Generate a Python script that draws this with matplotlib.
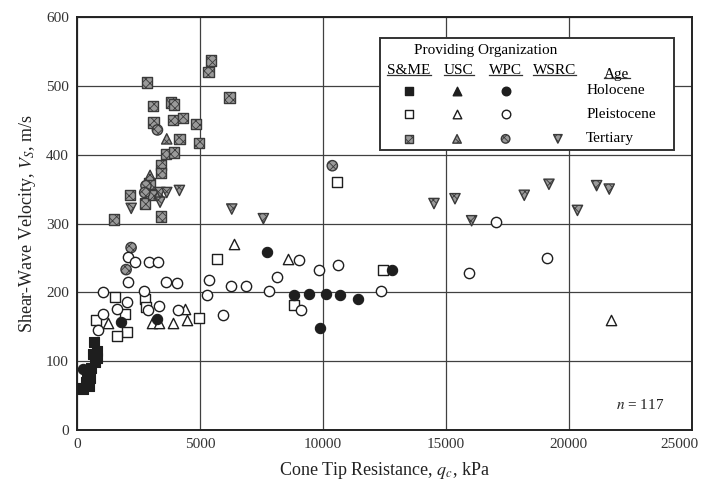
import matplotlib
matplotlib.use("Agg")
import matplotlib.pyplot as plt
from matplotlib.lines import Line2D
from matplotlib.transforms import ScaledTranslation

plt.rcParams['font.family'] = ['Liberation Serif', 'DejaVu Serif']
plt.rcParams['mathtext.fontset'] = 'stix'
plt.rcParams['hatch.linewidth'] = 0.6

# Holocene
sme_hol_qc = [700, 790, 800, 720, 560, 420, 540, 380, 150, 250, 480, 630]
sme_hol_vs = [128, 115, 104, 98, 90, 82, 76, 69, 61, 60, 64, 110]
wpc_hol_qc = [250, 1770, 3250, 7711, 8821, 9443, 10110, 10691, 11435, 9878, 12791]
wpc_hol_vs = [88, 157, 161, 258, 196, 197, 197, 196, 191, 148, 233]

# Pleistocene
sme_ple_qc = [10556, 5677, 12453, 8821, 4960, 1545, 2764, 2810, 1951, 772, 2018, 1640]
sme_ple_vs = [361, 249, 233, 181, 162, 193, 191, 178, 169, 160, 143, 137]
usc_ple_qc = [6370, 8590, 21728, 4458, 4390, 1273, 3036, 3340, 3915]
usc_ple_vs = [270, 249, 160, 160, 176, 155, 155, 156, 155]
wpc_ple_qc = [17032, 15948, 19093, 9037, 8116, 9850, 10622, 7817, 9118, 12345,
              5366, 6248, 6870, 5272, 5948, 4118, 2086, 2358, 2939, 3305,
              2086, 3618, 4077, 1070, 2724, 2045, 1612, 2900, 3347, 1070, 866]
wpc_ple_vs = [302, 228, 250, 247, 222, 233, 239, 202, 174, 202,
              218, 209, 209, 196, 167, 175, 251, 244, 244, 244,
              215, 215, 213, 200, 202, 186, 176, 174, 180, 169, 145]

# Tertiary
sme_ter_qc = [5447, 5339, 2833, 6192, 3076, 3821, 3943, 3103, 3889, 4295, 4837, 4160,
              4970, 3618, 3943, 3415, 3415, 2940, 2154, 2764, 3103, 3415, 1504]
sme_ter_vs = [537, 520, 505, 483, 471, 476, 473, 447, 450, 453, 445, 423,
              417, 401, 403, 385, 373, 358, 341, 329, 341, 310, 306]
usc_ter_qc = [3645, 2967, 3333]
usc_ter_vs = [423, 370, 343]
wpc_ter_qc = [3266, 2800, 2750, 10378, 2195, 1992]
wpc_ter_vs = [436, 355, 345, 384, 265, 233]
wsrc_ter_qc = [2200, 3374, 3374, 3645, 4160, 6289, 7574, 14512, 15366, 16043,
               18183, 19187, 20346, 21126, 21639]
wsrc_ter_vs = [322, 331, 345, 345, 348, 321, 307, 329, 336, 304,
               341, 357, 319, 355, 350]

fig = plt.figure(figsize=(7.01, 4.88), dpi=100)
ax = fig.add_axes([0.110, 0.119, 0.877, 0.846])

DARK = '#1e1e1e'
GRAY = '#9a9a9a'
S = 55


def filled(x, y, m):
    ax.scatter(x, y, marker=m, s=S, facecolor=DARK, edgecolor=DARK, lw=0.8, zorder=3)


def hollow(x, y, m):
    ax.scatter(x, y, marker=m, s=S, facecolor='white', edgecolor=DARK, lw=1.0, zorder=3)


def hatched(x, y, m):
    ax.scatter(x, y, marker=m, s=S, facecolor=GRAY, edgecolor='#3a3a3a',
               hatch='xxxx', lw=1.0, zorder=3)


hatched(sme_ter_qc, sme_ter_vs, 's')
hatched(usc_ter_qc, usc_ter_vs, '^')
hatched(wpc_ter_qc, wpc_ter_vs, 'o')
hatched(wsrc_ter_qc, wsrc_ter_vs, 'v')
hollow(sme_ple_qc, sme_ple_vs, 's')
hollow(usc_ple_qc, usc_ple_vs, '^')
hollow(wpc_ple_qc, wpc_ple_vs, 'o')
filled(sme_hol_qc, sme_hol_vs, 's')
filled(wpc_hol_qc, wpc_hol_vs, 'o')

ax.set_xlim(0, 25000)
ax.set_ylim(0, 600)
ax.set_xticks(range(0, 25001, 5000))
ax.set_yticks(range(0, 601, 100))
ax.grid(True, color='#404040', lw=0.9)
ax.set_axisbelow(True)
ax.tick_params(length=0, labelsize=11, pad=6, colors='#333333')
for sp in ax.spines.values():
    sp.set_linewidth(1.4)
    sp.set_color('#222222')

# last x tick label sits a bit left so it stays inside the picture
fig.canvas.draw()
last = ax.get_xticklabels()[-1]
last.set_transform(last.get_transform() + ScaledTranslation(-12 / 100, 0, fig.dpi_scale_trans))

ax.set_xlabel('Cone Tip Resistance, $q_c$, kPa', fontsize=13, color='#222222', labelpad=6)
ax.set_ylabel('Shear-Wave Velocity, $V_S$, m/s', fontsize=13, color='#222222', labelpad=6)

ax.text(22886, 36, '$n$ = 117', fontsize=11, ha='center', va='center', color='#222222')

# legend box (drawn by hand, like the original)
T = ax.transAxes
box = plt.Rectangle((0.493, 0.678), 0.478, 0.271, transform=T, facecolor='white',
                    edgecolor='#333333', lw=1.4, zorder=5)
ax.add_patch(box)
ax.text(0.665, 0.920, 'Providing Organization', transform=T, fontsize=11,
        ha='center', va='center', zorder=6)
heads = ['S&ME', 'USC', 'WPC', 'WSRC']
hx = [0.540, 0.621, 0.697, 0.777]
hy = 0.870
head_texts = []
for h, xx in zip(heads, hx):
    head_texts.append(ax.text(xx, hy, h, transform=T, fontsize=11, ha='center',
                              va='center', zorder=6))
head_texts.append(ax.text(0.878, 0.862, 'Age', transform=T, fontsize=11, ha='center',
                          va='center', zorder=6))

fig.canvas.draw()
inv = T.inverted()
for t in head_texts:
    bb = t.get_window_extent()
    (x0, y0), (x1, y1) = inv.transform([[bb.x0, bb.y0], [bb.x1, bb.y1]])
    ax.add_line(Line2D([x0, x1], [y0 + 0.006, y0 + 0.006], transform=T, color='#333333',
                       lw=0.9, zorder=6))

ages = ['Holocene', 'Pleistocene', 'Tertiary']
ay = [0.822, 0.765, 0.705]
mx = [0.540, 0.618, 0.697, 0.782]
for lab, yy in zip(ages, ay):
    ax.text(0.828, yy, lab, transform=T, fontsize=11, ha='left', va='center', zorder=6)

kw = dict(transform=T, s=38, zorder=7, clip_on=False)
ax.scatter(mx[0], ay[0], marker='s', facecolor=DARK, edgecolor=DARK, **kw)
ax.scatter(mx[1], ay[0], marker='^', facecolor=DARK, edgecolor=DARK, **kw)
ax.scatter(mx[2], ay[0], marker='o', facecolor=DARK, edgecolor=DARK, **kw)
ax.scatter(mx[0], ay[1], marker='s', facecolor='white', edgecolor=DARK, lw=1.0, **kw)
ax.scatter(mx[1], ay[1], marker='^', facecolor='white', edgecolor=DARK, lw=1.0, **kw)
ax.scatter(mx[2], ay[1], marker='o', facecolor='white', edgecolor=DARK, lw=1.0, **kw)
for m, xx in zip(['s', '^', 'o', 'v'], mx):
    ax.scatter(xx, ay[2], marker=m, facecolor=GRAY, edgecolor='#3a3a3a', hatch='xxxx',
               lw=1.0, **kw)

fig.savefig('out.png', dpi=100)
